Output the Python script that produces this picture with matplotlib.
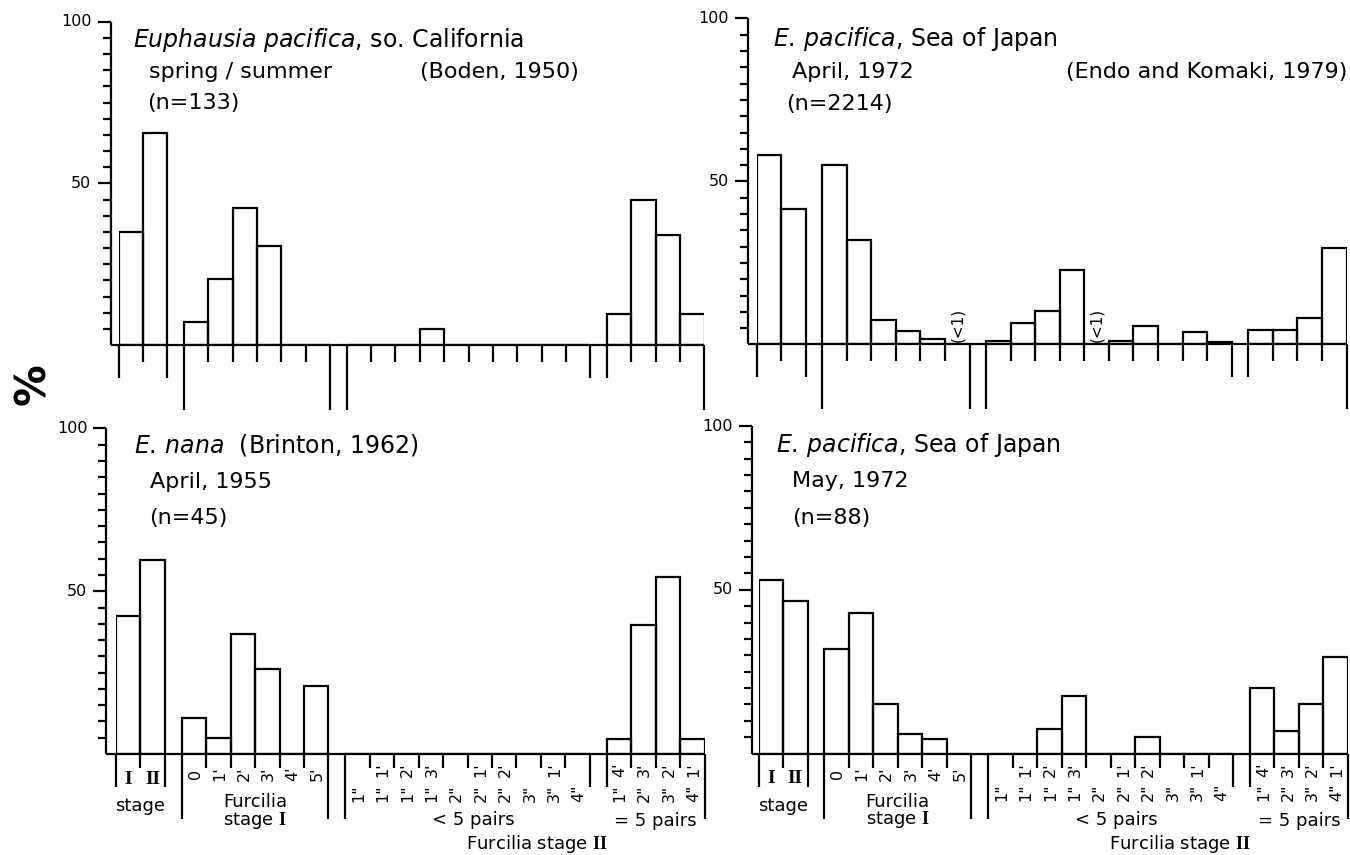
import matplotlib.pyplot as plt

plt.rcParams['font.family'] = ['DejaVu Sans']
plt.rcParams['mathtext.fontset'] = 'custom'
plt.rcParams['mathtext.it'] = 'DejaVu Sans:italic'
plt.rcParams['mathtext.rm'] = 'DejaVu Sans'
plt.rcParams['mathtext.bf'] = 'Liberation Serif:bold'

W, H = 1350, 855

# stage names along the x axis
calyp_labels = ["I", "II"]
fc1_labels = ["0", "1'", "2'", "3'", "4'", "5'"]
fc2a_low = ['1"', '1"', '1"', '1"', '2"', '2"', '2"', '3"', '3"', '4"']
fc2a_up = ["", "1'", "2'", "3'", "", "1'", "2'", "", "1'", ""]
fc2b_low = ['1"', '2"', '3"', '4"']
fc2b_up = ["4'", "3'", "2'", "1'"]

LT1 = None  # shown as "(<1)"

# percentages
boden_calyp = [35, 65.5]
boden_fc1 = [7, 20.5, 42.5, 30.5, 0, 0]
boden_fc2a = [0, 0, 0, 5, 0, 0, 0, 0, 0, 0]
boden_fc2b = [9.5, 45, 34, 9.5]

apr_calyp = [58, 41.5]
apr_fc1 = [55, 32, 7.5, 4, 1.8, LT1]
apr_fc2a = [1, 6.7, 10.3, 22.8, LT1, 1, 5.8, 0, 3.7, 0.9]
apr_fc2b = [4.4, 4.6, 8, 29.5]

brinton_calyp = [42.5, 59.5]
brinton_fc1 = [11, 5, 37, 26, 0, 21]
brinton_fc2a = [0, 0, 0, 0, 0, 0, 0, 0, 0, 0]
brinton_fc2b = [4.5, 39.5, 54.5, 4.5]

may_calyp = [53, 46.5]
may_fc1 = [32, 43, 15, 6, 4.5, 0]
may_fc2a = [0, 0, 7.5, 17.5, 0, 0, 5, 0, 0, 0]
may_fc2b = [20, 7, 15, 29.5]

GAP = 0.68
starts = [0]
for n in [2, 6, 10]:
    starts.append(starts[-1] + n + GAP)
X_END = starts[-1] + 4

fig = plt.figure(figsize=(13.5, 8.55), dpi=100)


def px(x, y):
    return x / W, 1 - y / H


def panel(box, groups, labelled):
    ax_x, bar_x, end_x, y100, y0 = box
    ax = fig.add_axes([bar_x / W, 1 - y0 / H, (end_x - bar_x) / W, (y0 - y100) / H])
    ax.set_xlim(0, X_END)
    ax.set_ylim(0, 100)
    ax.axis('off')
    ppx = (end_x - bar_x) / X_END
    ppy = (y0 - y100) / 100

    def below(p):
        return -p / ppy

    kw = dict(color='black', lw=1.6, clip_on=False, solid_capstyle='butt')
    xa = -(bar_x - ax_x) / ppx
    ax.plot([xa, xa], [0, 100], **kw)
    for v in range(5, 101, 5):
        L = 13 if v % 50 == 0 else 8
        ax.plot([xa - L / ppx, xa], [v, v], **kw)
    for v in [50, 100]:
        ax.text(xa - 19 / ppx, v, str(v), ha='right', va='center', fontsize=11.5)
    ax.plot([xa, X_END], [0, 0], **kw)

    inner = 14 if labelled else 17
    outer = [(33, 33), (65, 65), (65, 33), (33, 65)]
    for g, vals in enumerate(groups):
        x0 = starts[g]
        xs = [x0 + i for i in range(len(vals))]
        h = [0 if v is None else v for v in vals]
        ax.bar(xs, h, width=1, align='edge', fill=False, edgecolor='black', lw=1.6)
        for i, v in enumerate(vals):
            if v is None:
                ax.text(xs[i] + 0.5, below(-3), "(<1)", rotation=90, ha='center',
                        va='bottom', fontsize=11)
        n = len(vals)
        for i in range(n + 1):
            if i == 0:
                d = outer[g][0]
            elif i == n:
                d = outer[g][1]
            else:
                d = inner
            ax.plot([x0 + i, x0 + i], [0, below(d)], **kw)

    if labelled:
        for i, s in enumerate(calyp_labels):
            ax.text(starts[0] + i + 0.5, below(25), s, ha='center', va='center',
                    fontsize=14, family='Liberation Serif', weight='bold')
        for i, s in enumerate(fc1_labels):
            ax.text(starts[1] + i + 0.55, below(20), s, rotation=90, ha='center',
                    va='center', fontsize=11.5)
        for low, up, x0 in [(fc2a_low, fc2a_up, starts[2]), (fc2b_low, fc2b_up, starts[3])]:
            for i in range(len(low)):
                ax.text(x0 + i + 0.55, below(39), low[i], rotation=90, ha='center',
                        va='center', fontsize=11.5)
                if up[i]:
                    ax.text(x0 + i + 0.55, below(16), up[i], rotation=90, ha='center',
                            va='center', fontsize=11.5)
        gk = dict(ha='center', va='center', fontsize=13)
        ax.text(starts[0] + 1, below(52), "stage", **gk)
        ax.text(starts[1] + 3, below(48), "Furcilia", **gk)
        ax.text(starts[1] + 3, below(66), r"stage $\mathbf{I}$", **gk)
        ax.text(starts[2] + 5.25, below(66), "< 5 pairs", **gk)
        ax.text(starts[3] + 2, below(67), "= 5 pairs", **gk)
        ax.text((starts[2] + X_END) / 2 + 0.5, below(90), r"Furcilia stage $\mathbf{II}$", **gk)
    return ax


panel((110.5, 118.5, 704.5, 21.7, 345),
      [boden_calyp, boden_fc1, boden_fc2a, boden_fc2b], False)
panel((748, 756.5, 1346.5, 18.5, 344.5),
      [apr_calyp, apr_fc1, apr_fc2a, apr_fc2b], False)
panel((106.5, 116, 704.5, 428.5, 754),
      [brinton_calyp, brinton_fc1, brinton_fc2a, brinton_fc2b], True)
panel((751.8, 758.5, 1348, 426, 753.5),
      [may_calyp, may_fc1, may_fc2a, may_fc2b], True)

# panel captions
tk = dict(ha='left', va='center', fontsize=16)
hk = dict(ha='left', va='center', fontsize=17)
fig.text(*px(133, 40), r"$\mathit{Euphausia\ pacifica}$, so. California", **hk)
fig.text(*px(149, 72), "spring / summer", **tk)
fig.text(*px(420, 72), "(Boden, 1950)", **tk)
fig.text(*px(147, 103), "(n=133)", **tk)

fig.text(*px(773, 39), r"$\mathit{E.\,pacifica}$, Sea of Japan", **hk)
fig.text(*px(792, 72), "April, 1972", **tk)
fig.text(*px(1347, 72), "(Endo and Komaki, 1979)", fontsize=16, ha='right', va='center')
fig.text(*px(786, 104), "(n=2214)", **tk)

fig.text(*px(134, 445), r"$\mathit{E.\,nana}$  (Brinton, 1962)", **hk)
fig.text(*px(149.5, 482), "April, 1955", **tk)
fig.text(*px(149.5, 518), "(n=45)", **tk)

fig.text(*px(776, 445), r"$\mathit{E.\,pacifica}$, Sea of Japan", **hk)
fig.text(*px(792, 481), "May, 1972", **tk)
fig.text(*px(792, 518), "(n=88)", **tk)

fig.text(*px(33, 384), "%", rotation=90, ha='center', va='center', fontsize=30,
         weight='bold')

fig.savefig('out.png', dpi=100)
